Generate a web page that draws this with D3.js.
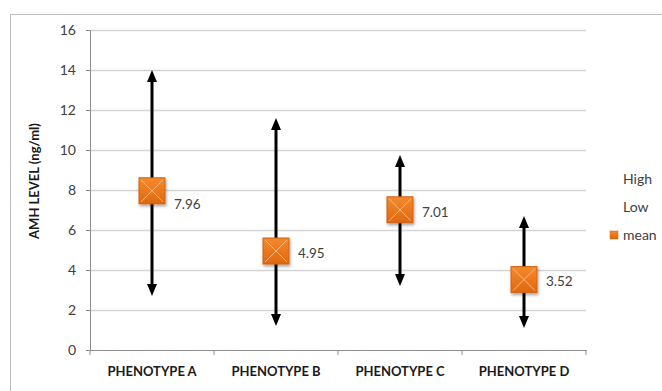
<!DOCTYPE html>
<html><head><meta charset="utf-8">
<script src="https://cdn.jsdelivr.net/npm/d3@7"></script>
<style>body{margin:0;background:#fff;}svg{display:block;}</style>
</head><body>
<svg id="chart" width="662" height="391"></svg>
<script>
const categories = ["PHENOTYPE A", "PHENOTYPE B", "PHENOTYPE C", "PHENOTYPE D"];
const highValues = [14.0, 11.6, 9.75, 6.7];
const lowValues = [2.7, 1.2, 3.2, 1.1];
const meanValues = [7.96, 4.95, 7.01, 3.52];
const yTicks = [0, 2, 4, 6, 8, 10, 12, 14, 16];
const legendItems = ["High", "Low", "mean"];

const svg = d3.select("#chart");
const margin = {left: 90, right: 76, top: 30, bottom: 41};
const W = 662, H = 391;
const x = d3.scaleBand().domain(categories).range([margin.left, W - margin.right]).padding(0);
const y = d3.scaleLinear().domain([0, 16]).range([H - margin.bottom, margin.top]);
const font = "Lato, 'Open Sans', sans-serif";

// outer border
svg.append("rect").attr("x", 10.5).attr("y", 14.5).attr("width", 700).attr("height", 400)
  .attr("fill", "none").attr("stroke", "#bfbfbf").attr("stroke-width", 1);

const defs = svg.append("defs");
const grad = defs.append("linearGradient").attr("id", "og").attr("x1", 0).attr("y1", 0).attr("x2", 0).attr("y2", 1);
grad.append("stop").attr("offset", "0%").attr("stop-color", "#f48a2c");
grad.append("stop").attr("offset", "100%").attr("stop-color", "#e0670f");
const filt = defs.append("filter").attr("id", "sh").attr("x", "-30%").attr("y", "-30%").attr("width", "170%").attr("height", "170%");
filt.append("feDropShadow").attr("dx", 1).attr("dy", 2).attr("stdDeviation", 1.5).attr("flood-color", "#000").attr("flood-opacity", 0.35);

// gridlines
svg.append("g").selectAll("line").data(yTicks.filter(d => d > 0)).join("line")
  .attr("x1", margin.left).attr("x2", W - margin.right)
  .attr("y1", d => Math.round(y(d)) + 0.5).attr("y2", d => Math.round(y(d)) + 0.5)
  .attr("stroke", "#d4d4d4").attr("stroke-width", 1.3);

// y axis
const yAxis = svg.append("g").attr("transform", `translate(${margin.left},0)`)
  .call(d3.axisLeft(y).tickValues(yTicks).tickSize(4).tickPadding(10));
yAxis.select(".domain").attr("stroke", "#8c8c8c");
yAxis.selectAll(".tick line").attr("stroke", "#8c8c8c");
yAxis.selectAll("text").attr("font-family", font).attr("font-size", 14).attr("fill", "#404040");

// x axis
const xAxis = svg.append("g").attr("transform", `translate(0,${y(0)})`)
  .call(d3.axisBottom(x).tickSize(0).tickPadding(17));
xAxis.select(".domain").attr("stroke", "#8c8c8c");
xAxis.selectAll("text").attr("font-family", font).attr("font-size", 13).attr("font-weight", "bold").attr("fill", "#1a1a1a");
const bounds = categories.map(c => x(c)).concat([x(categories[categories.length - 1]) + x.bandwidth()]);
svg.append("g").selectAll("line").data(bounds).join("line")
  .attr("x1", d => d).attr("x2", d => d).attr("y1", y(0)).attr("y2", y(0) + 5).attr("stroke", "#8c8c8c");

// y title
svg.append("text").attr("transform", `translate(34,181) rotate(-90)`)
  .attr("text-anchor", "middle").attr("dy", "0.35em").attr("font-family", font).attr("font-size", 13).attr("font-weight", "bold")
  .attr("fill", "#1a1a1a").text("AMH LEVEL (ng/ml)");

// high-low arrows
const cx = c => x(c) + x.bandwidth() / 2;
const ah = 12, aw = 5;
const ag = svg.append("g");
ag.selectAll("line").data(categories).join("line")
  .attr("x1", c => cx(c)).attr("x2", c => cx(c))
  .attr("y1", (c, i) => y(lowValues[i]) - ah + 1).attr("y2", (c, i) => y(highValues[i]) + ah - 1)
  .attr("stroke", "#000").attr("stroke-width", 3);
ag.selectAll("path.up").data(categories).join("path").attr("class", "up")
  .attr("d", (c, i) => { const px = cx(c), py = y(highValues[i]); return `M${px},${py}L${px + aw},${py + ah}L${px - aw},${py + ah}Z`; })
  .attr("fill", "#000");
ag.selectAll("path.dn").data(categories).join("path").attr("class", "dn")
  .attr("d", (c, i) => { const px = cx(c), py = y(lowValues[i]); return `M${px},${py}L${px + aw},${py - ah}L${px - aw},${py - ah}Z`; })
  .attr("fill", "#000");

// mean markers
const s = 26;
const mg = svg.append("g").selectAll("g").data(categories).join("g")
  .attr("transform", (c, i) => `translate(${cx(c)},${y(meanValues[i])})`);
mg.append("rect").attr("x", -s / 2).attr("y", -s / 2).attr("width", s).attr("height", s)
  .attr("fill", "url(#og)").attr("stroke", "#d0620f").attr("stroke-width", 1).attr("filter", "url(#sh)");
mg.append("path").attr("d", `M${-s/2+2},${-s/2+2}L${s/2-2},${s/2-2}M${s/2-2},${-s/2+2}L${-s/2+2},${s/2-2}`)
  .attr("stroke", "#f9b784").attr("stroke-width", 1);

// labels
const labelDy = [13, 2, 2, 2];
svg.append("g").selectAll("text").data(categories).join("text")
  .attr("x", c => cx(c) + 22).attr("y", (c, i) => y(meanValues[i]) + labelDy[i])
  .attr("dy", "0.35em").attr("font-family", font).attr("font-size", 13.5).attr("fill", "#404040")
  .text((c, i) => meanValues[i].toFixed(2));

// legend
const lg = svg.append("g");
legendItems.forEach((t, i) => {
  const ly = 179 + i * 28;
  lg.append("text").attr("x", 623).attr("y", ly).attr("dy", "0.35em")
    .attr("font-family", font).attr("font-size", 14).attr("fill", "#404040").text(t);
  if (t === "mean") {
    lg.append("rect").attr("x", 610).attr("y", ly - 4).attr("width", 8).attr("height", 8)
      .attr("fill", "url(#og)").attr("stroke", "#d0620f").attr("stroke-width", 0.5);
  }
});
</script>
</body></html>
